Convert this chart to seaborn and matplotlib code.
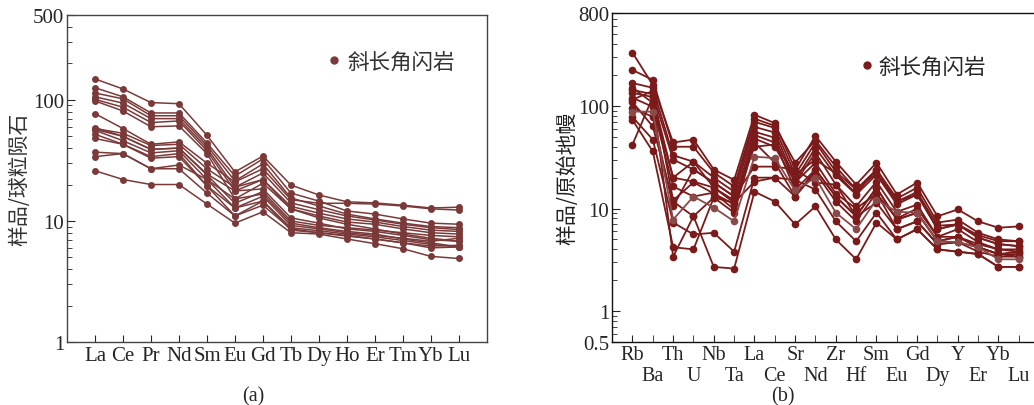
import matplotlib
matplotlib.use("Agg")
import matplotlib.pyplot as plt
from matplotlib.lines import Line2D
from matplotlib.ticker import LogLocator, NullFormatter
import seaborn as sns
import pandas as pd
import numpy as np

# REE, chondrite normalised
ree_elements = ["La", "Ce", "Pr", "Nd", "Sm", "Eu", "Gd", "Tb", "Dy", "Ho", "Er", "Tm", "Yb", "Lu"]
ree_samples = [
    [149, 123, 95, 93, 51, 25.4, 34.4, 19.8, 16.4, 14.4, 14.1, 13.5, 12.8, 13.0],
    [126, 106, 78, 78, 44, 23.5, 32.5, 17.0, 14.6, 12.1, 11.4, 10.4, 9.6, 9.4],
    [114, 102, 74, 74, 42, 21.4, 29.6, 15.5, 13.3, 11.4, 10.4, 9.6, 9.0, 8.8],
    [106, 94, 70, 70, 40, 19.0, 24.9, 14.1, 12.4, 11.0, 10.2, 9.4, 8.8, 8.5],
    [101, 87, 65, 67, 38, 17.7, 22.0, 13.2, 11.6, 10.4, 9.8, 9.0, 8.4, 8.2],
    [98, 81, 60, 61, 36, 15.2, 20.5, 12.6, 11.0, 9.8, 9.4, 8.6, 8.0, 7.8],
    [77, 58, 43, 45, 30, 21.0, 27.0, 15.0, 14.0, 14.0, 13.8, 13.3, 12.6, 12.3],
    [58, 53, 42, 43, 27, 19.0, 22.0, 12.6, 10.6, 9.4, 8.6, 7.8, 7.2, 6.8],
    [57, 50, 39, 40, 24.4, 17.7, 18.4, 10.6, 9.6, 8.6, 8.2, 7.6, 7.0, 6.8],
    [56, 46, 36.5, 38, 22, 15.2, 16.7, 9.6, 8.8, 8.2, 7.8, 7.1, 6.6, 6.1],
    [52, 43, 34, 36, 19.5, 12.8, 14.6, 8.8, 8.3, 7.8, 7.4, 6.9, 6.4, 6.1],
    [48, 43, 33, 34, 19.5, 11.0, 14.6, 8.4, 8.0, 7.5, 7.1, 6.6, 6.0, 6.1],
    [59, 50, 39, 40, 24, 14.0, 17.5, 10.0, 9.2, 8.8, 8.4, 8.0, 7.6, 7.4],
    [37, 36, 27, 27, 17, 11.0, 13.5, 8.6, 8.0, 7.6, 7.1, 6.6, 6.2, 6.3],
    [34, 36, 27, 29, 22, 12.8, 16.0, 9.2, 8.6, 8.0, 7.6, 7.2, 6.8, 7.2],
    [26, 22, 20, 20, 13.8, 9.6, 11.9, 8.0, 7.8, 7.1, 6.5, 5.9, 5.1, 4.9],
]

# trace elements, primitive mantle normalised
spider_elements = ["Rb", "Ba", "Th", "U", "Nb", "Ta", "La", "Ce", "Sr", "Nd",
                   "Zr", "Hf", "Sm", "Eu", "Gd", "Dy", "Y", "Er", "Yb", "Lu"]
spider_samples = [
    [330, 160, 44, 47, 24, 19, 82, 68, 24, 51, 28.6, 17.1, 28, 13.7, 17.9, 8.4, 9.8, 7.5, 6.5, 6.7],
    [224, 179, 40, 40, 22.4, 16.4, 75, 64, 28, 46, 25.6, 15.3, 24, 12.5, 16, 7.3, 7.8, 5.8, 5.0, 4.8],
    [167, 150, 33, 28.6, 20, 14.6, 70, 61, 21.4, 44, 22.9, 15.3, 22, 11.7, 14.5, 6.8, 7.0, 5.5, 4.8, 4.8],
    [143, 130, 30, 24, 17.9, 13.1, 62.5, 55, 19, 39, 21, 13.7, 21.4, 11.0, 13.7, 6.3, 7.0, 5.2, 4.5, 4.3],
    [134, 122, 20, 18.3, 16, 11.4, 56, 49, 17.9, 35, 17.1, 10.5, 18.3, 9.3, 10.9, 5.3, 6.3, 4.7, 4.0, 3.8],
    [120, 98, 16.4, 13.1, 14.3, 9.8, 52, 44, 15.3, 24, 13.1, 8.4, 16, 7.8, 9.1, 4.8, 5.3, 4.2, 3.6, 3.4],
    [109, 63, 11.7, 8.4, 12.8, 9.1, 44, 28, 13.1, 22.4, 11.7, 7.5, 14.3, 6.3, 7.5, 4.5, 4.7, 3.8, 3.4, 3.4],
    [96, 78, 10.5, 24, 17.9, 13.1, 25.6, 25.6, 24, 17.9, 17.1, 8.4, 11.4, 6.3, 7.5, 4.5, 4.7, 4.2, 3.6, 3.8],
    [78, 47, 7.3, 5.6, 5.8, 3.8, 20, 20, 19, 15.3, 7.5, 4.8, 9.1, 5.0, 6.3, 4.0, 3.8, 3.6, 2.7, 2.7],
    [73, 36, 4.2, 4.0, 12.8, 11.4, 18.3, 20, 13.1, 24, 13.1, 8.4, 16, 7.8, 9.1, 4.8, 5.3, 4.2, 3.6, 3.6],
    [42, 122, 3.4, 8.4, 2.7, 2.6, 14.6, 11.7, 7.0, 10.5, 5.0, 3.2, 7.3, 5.0, 6.3, 4.0, 3.8, 3.6, 2.7, 2.7],
    [150, 107, 20, 28.6, 16, 12, 40, 42, 21.4, 30, 22, 14, 24, 11.7, 13.7, 6.3, 7.0, 5.2, 4.5, 4.3],
    [115, 140, 12, 18, 14, 11, 48, 40, 18, 28, 14, 10, 14, 8, 10, 5.3, 5.3, 4.5, 4.0, 4.0],
]
grey_sample = [88, 88, 7.8, 13.1, 10.2, 7.5, 32, 31, 15, 20, 9.1, 6.3, 12.2, 9.3, 9.1, 4.8, 4.7, 4.2, 3.2, 3.2]

legend_label = "斜长角闪岩"

sns.set_style("ticks")
plt.rcParams["font.family"] = ["Liberation Serif", "Noto Sans CJK SC"]
cjk = ["Noto Sans CJK SC", "DejaVu Sans"]

color_a = "#7b3a3a"
color_b = "#7a1a1a"
fs_tick = 15


def to_long(elements, samples):
    rows = []
    for i, s in enumerate(samples):
        for j, v in enumerate(s):
            rows.append({"sample": i, "pos": j, "value": v})
    return pd.DataFrame(rows)


fig = plt.figure(figsize=(10.34, 4.06), dpi=100)
ax_a = fig.add_axes([0.0648, 0.155, 0.406, 0.805])
ax_b = fig.add_axes([0.592, 0.155, 0.413, 0.810])

# (a) REE pattern
df_a = to_long(ree_elements, ree_samples)
sns.lineplot(data=df_a, x="pos", y="value", units="sample", estimator=None,
             color=color_a, marker="o", markersize=5, markeredgewidth=0,
             linewidth=1.1, ax=ax_a)
ax_a.set_yscale("log")
ax_a.set_ylim(1, 500)
ax_a.set_xlim(-1, 14)
ax_a.set_xticks(range(len(ree_elements)))
ax_a.set_xticklabels(ree_elements, fontsize=fs_tick)
ax_a.set_yticks([1, 10, 100, 500])
ax_a.set_yticklabels(["1", "10", "100", "500"], fontsize=fs_tick)
ax_a.yaxis.set_minor_locator(LogLocator(base=10, subs=np.arange(2, 10)))
ax_a.yaxis.set_minor_formatter(NullFormatter())
ax_a.set_xlabel("")
ax_a.set_ylabel("样品/球粒陨石", fontsize=15, family=cjk, color="#333333", labelpad=2)
ax_a.tick_params(axis="both", which="both", direction="in", top=False, right=False)
ax_a.tick_params(axis="x", length=5, pad=3)
ax_a.tick_params(axis="y", which="major", length=6, pad=2)
ax_a.tick_params(axis="y", which="minor", length=3.5)
for sp in ax_a.spines.values():
    sp.set_color("#444444")
    sp.set_linewidth(1.0)
h_a = Line2D([], [], linestyle="none", marker="o", markersize=5, color=color_a)
leg = ax_a.legend([h_a], [legend_label], loc="upper right", bbox_to_anchor=(0.97, 0.95),
                  frameon=False, handlelength=0.6, handletextpad=0.3,
                  prop={"family": cjk, "size": 15.5})
for t in leg.get_texts():
    t.set_color("#333333")

# (b) spider diagram
df_b = to_long(spider_elements, spider_samples)
sns.lineplot(data=df_b, x="pos", y="value", units="sample", estimator=None,
             color=color_b, marker="o", markersize=5.5, markeredgewidth=0,
             linewidth=1.3, ax=ax_b)
sns.lineplot(x=np.arange(len(spider_elements)), y=grey_sample, color="#8a4a4a",
             marker="o", markersize=5.5, markeredgewidth=0, linewidth=1.3, ax=ax_b)
ax_b.set_yscale("log")
ax_b.set_ylim(0.5, 800)
ax_b.set_xlim(-1, 20)
# upper row of labels on major ticks, lower row on minor ticks
pos_b = np.arange(len(spider_elements))
ax_b.set_xticks(pos_b[::2])
ax_b.set_xticklabels(spider_elements[::2], fontsize=14.5)
ax_b.set_xticks(pos_b[1::2], minor=True)
ax_b.set_xticklabels(spider_elements[1::2], minor=True, fontsize=14.5)
ax_b.set_yticks([0.5, 1, 10, 100, 800])
ax_b.set_yticklabels(["0.5", "1", "10", "100", "800"], fontsize=fs_tick)
ax_b.yaxis.set_minor_locator(LogLocator(base=10, subs=np.arange(2, 10)))
ax_b.yaxis.set_minor_formatter(NullFormatter())
ax_b.set_xlabel("")
ax_b.set_ylabel("样品/原始地幔", fontsize=15, family=cjk, color="#222222", labelpad=0)
ax_b.tick_params(axis="both", which="both", direction="in", top=False, right=False)
ax_b.tick_params(axis="x", which="major", length=5, pad=2)
ax_b.tick_params(axis="x", which="minor", length=5, pad=17)
ax_b.tick_params(axis="y", which="major", length=6, pad=2)
ax_b.tick_params(axis="y", which="minor", length=3.5)
for sp in ax_b.spines.values():
    sp.set_color("#111111")
    sp.set_linewidth(1.0)
h_b = Line2D([], [], linestyle="none", marker="o", markersize=5, color=color_b)
leg = ax_b.legend([h_b], [legend_label], loc="upper right", bbox_to_anchor=(0.92, 0.93),
                  frameon=False, handlelength=0.6, handletextpad=0.2,
                  prop={"family": cjk, "size": 15.5})

fig.text(0.245, 0.0, "(a)", fontsize=14.5, ha="center", va="bottom")
fig.text(0.757, 0.0, "(b)", fontsize=14.5, ha="center", va="bottom")

fig.savefig("out.png", dpi=100)
